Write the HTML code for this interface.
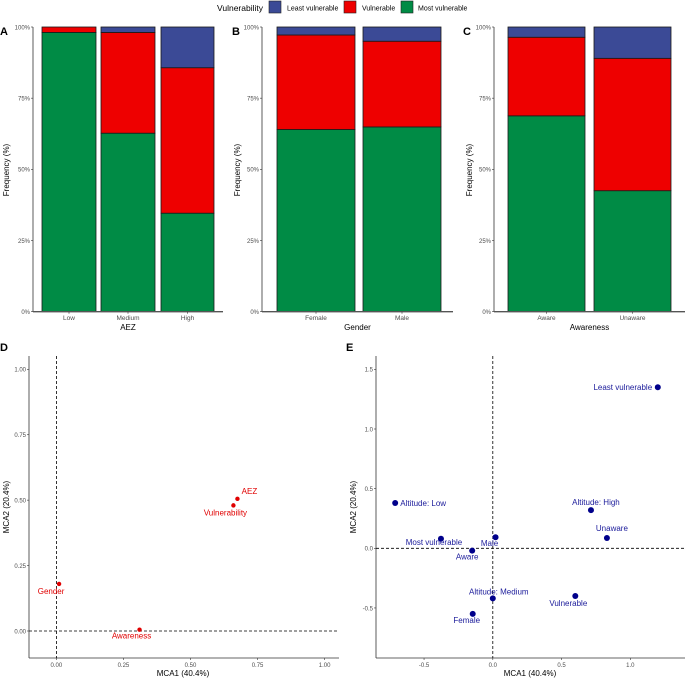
<!DOCTYPE html>
<html><head><meta charset="utf-8">
<style>
html,body{margin:0;padding:0;background:#fff;}
svg{display:block;font-family:"Liberation Sans",Arial,sans-serif;}
</style></head>
<body>
<svg id="fig" width="685" height="679" viewBox="0 0 685 679" xmlns="http://www.w3.org/2000/svg"></svg>
<script>
// ---------- data ----------
const seriesNames = ["Most vulnerable","Vulnerable","Least vulnerable"];
const aezCats = ["Low","Medium","High"];
const aezMost = [98.1, 62.7, 34.6];
const aezVuln = [1.9, 35.4, 51.1];
const aezLeast = [0, 1.9, 14.3];
const genderCats = ["Female","Male"];
const genderMost = [64.0, 64.9];
const genderVuln = [33.2, 30.1];
const genderLeast = [2.8, 5.0];
const awareCats = ["Aware","Unaware"];
const awareMost = [68.8, 42.5];
const awareVuln = [27.6, 46.5];
const awareLeast = [3.6, 11.0];
const pctTicks = [0,25,50,75,100];

const dNames = ["AEZ","Vulnerability","Gender","Awareness"];
const dX = [0.675, 0.66, 0.01, 0.31];
const dY = [0.505, 0.48, 0.18, 0.005];
const dTicks = [0,0.25,0.5,0.75,1];

const eNames = ["Least vulnerable","Altitude: Low","Altitude: High","Unaware","Male","Most vulnerable","Aware","Altitude: Medium","Vulnerable","Female"];
const eX = [1.20,-0.71,0.714,0.83,0.02,-0.377,-0.15,0,0.60,-0.146];
const eY = [1.35,0.38,0.32,0.086,0.093,0.08,-0.02,-0.42,-0.40,-0.55];
const eXTicks = [-0.5,0,0.5,1];
const eYTicks = [-0.5,0,0.5,1,1.5];

// ---------- helpers ----------
const NS="http://www.w3.org/2000/svg";
const svg=document.getElementById('fig');
function el(tag,attrs,parent,txt){const e=document.createElementNS(NS,tag);for(const k in attrs)e.setAttribute(k,attrs[k]);if(txt!==undefined)e.textContent=txt;(parent||svg).appendChild(e);return e;}
const COLORS={"Most vulnerable":"#008B45","Vulnerable":"#EE0000","Least vulnerable":"#3B4A96"};

// legend
const lg=el('g',{});


el('text',{x:217,y:11,'font-size':8.5,fill:'#000'},lg,'Vulnerability');
const legItems=[["Least vulnerable",269,287],["Vulnerable",344,362],["Most vulnerable",401,418]];
legItems.forEach(([n,bx,tx])=>{
  const g=el('g',{},lg);
  
  
  el('rect',{x:bx,y:1,width:12,height:12,fill:COLORS[n],stroke:'#222','stroke-width':0.6},g);
  el('text',{x:tx,y:10.5,'font-size':7,fill:'#000'},g,n);
});

// bar panels
function barPanel(letter,lx,axX,axEnd,bars,cats,most,vuln,least,title,ytx){
  const g=el('g',{});
  
  
  const y0=311.7,y1=27;
  const ys=v=>y0-(y0-y1)*v/100;
  const t=el('text',{x:lx,y:35,'font-size':11,'font-weight':'bold'},g,letter);
  
  cats.forEach((c,i)=>{
    const [bx0,bx1]=bars[i];
    const segs=[["Most vulnerable",0,most[i]],["Vulnerable",most[i],most[i]+vuln[i]],["Least vulnerable",most[i]+vuln[i],most[i]+vuln[i]+least[i]]];
    segs.forEach(([n,a,b])=>{
      if(b-a<=0)return;
      const r=el('rect',{x:bx0,y:ys(b),width:bx1-bx0,height:ys(a)-ys(b),fill:COLORS[n],stroke:'#1a1a1a','stroke-width':0.8},g);
      
      
    });
    const tl=el('text',{x:(bx0+bx1)/2,y:320,'font-size':6.5,fill:'#4d4d4d','text-anchor':'middle'},g,c);
    
  });
  el('line',{x1:axX,y1:y1,x2:axX,y2:y0,stroke:'#333','stroke-width':0.8},g);
  el('line',{x1:axX,y1:y0,x2:axEnd,y2:y0,stroke:'#555','stroke-width':1.4},g);
  pctTicks.forEach(v=>{
    el('line',{x1:axX-2,y1:ys(v),x2:axX,y2:ys(v),stroke:'#333','stroke-width':0.6},g);
    el('text',{x:axX-3,y:ys(v)+2.3,'font-size':6,fill:'#4d4d4d','text-anchor':'end'},g,v+'%');
  });
  cats.forEach((c,i)=>{const m=(bars[i][0]+bars[i][1])/2;el('line',{x1:m,y1:y0,x2:m,y2:y0+2,stroke:'#333','stroke-width':0.6},g);});
  const xt=el('text',{x:(axX+axEnd)/2,y:330,'font-size':8,fill:'#000','text-anchor':'middle'},g,title);
  
  const yt=el('text',{x:0,y:0,'font-size':8,fill:'#000','text-anchor':'middle',transform:`translate(${ytx},170) rotate(-90)`},g,'Frequency (%)');
  
}
barPanel('A',0,33,223,[[42,96],[101,155],[161,214]],aezCats,aezMost,aezVuln,aezLeast,'AEZ',9);
barPanel('B',232,262,453,[[277,355],[363,441]],genderCats,genderMost,genderVuln,genderLeast,'Gender',240);
barPanel('C',463,494,685,[[508,585],[594,671]],awareCats,awareMost,awareVuln,awareLeast,'Awareness',472);

// panel D
(function(){
  const g=el('g',{});
  
  
  const L=29,R=339,T=356,B=658;
  const xs=v=>56.4+268.2*v, ys=v=>631-261.7*v;
  el('text',{x:0,y:351,'font-size':11,'font-weight':'bold'},g,'D');
  el('line',{x1:L,y1:T,x2:L,y2:B,stroke:'#333','stroke-width':0.8},g);
  el('line',{x1:L,y1:B,x2:R,y2:B,stroke:'#333','stroke-width':0.8},g);
  el('line',{x1:xs(0),y1:T,x2:xs(0),y2:B,stroke:'#000','stroke-width':0.8,'stroke-dasharray':'3,2'},g);
  el('line',{x1:L,y1:ys(0),x2:R,y2:ys(0),stroke:'#000','stroke-width':0.8,'stroke-dasharray':'3,2'},g);
  dTicks.forEach(v=>{
    el('line',{x1:L-2,y1:ys(v),x2:L,y2:ys(v),stroke:'#333','stroke-width':0.6},g);
    el('text',{x:L-3,y:ys(v)+2.3,'font-size':6,fill:'#4d4d4d','text-anchor':'end'},g,v.toFixed(2));
    el('line',{x1:xs(v),y1:B,x2:xs(v),y2:B+2,stroke:'#333','stroke-width':0.6},g);
    el('text',{x:xs(v),y:B+9,'font-size':6,fill:'#4d4d4d','text-anchor':'middle'},g,v.toFixed(2));
  });
  const off=[[12,-5],[-8,10],[-8,10],[-8,9]];
  dNames.forEach((n,i)=>{
    const c=el('circle',{cx:xs(dX[i]),cy:ys(dY[i]),r:2.2,fill:'#E00000'},g);
    
    
    const t=el('text',{x:xs(dX[i])+off[i][0],y:ys(dY[i])+off[i][1],'font-size':8,fill:'#E00000','text-anchor':'middle'},g,n);
    
  });
  el('text',{x:183,y:676,'font-size':8,'text-anchor':'middle'},g,'MCA1 (40.4%)');
  el('text',{x:0,y:0,'font-size':8,'text-anchor':'middle',transform:'translate(9,507) rotate(-90)'},g,'MCA2 (20.4%)');
})();

// panel E
(function(){
  const g=el('g',{});
  
  
  const L=376,R=685,T=356,B=658;
  const xs=v=>492.8+137.5*v, ys=v=>548.3-119.3*v;
  el('text',{x:346,y:351,'font-size':11,'font-weight':'bold'},g,'E');
  el('line',{x1:L,y1:T,x2:L,y2:B,stroke:'#333','stroke-width':0.8},g);
  el('line',{x1:L,y1:B,x2:R,y2:B,stroke:'#333','stroke-width':0.8},g);
  el('line',{x1:xs(0),y1:T,x2:xs(0),y2:B,stroke:'#000','stroke-width':0.8,'stroke-dasharray':'3,2'},g);
  el('line',{x1:L,y1:ys(0),x2:R,y2:ys(0),stroke:'#000','stroke-width':0.8,'stroke-dasharray':'3,2'},g);
  eYTicks.forEach(v=>{
    el('line',{x1:L-2,y1:ys(v),x2:L,y2:ys(v),stroke:'#333','stroke-width':0.6},g);
    el('text',{x:L-3,y:ys(v)+2.3,'font-size':6,fill:'#4d4d4d','text-anchor':'end'},g,v.toFixed(1));
  });
  eXTicks.forEach(v=>{
    el('line',{x1:xs(v),y1:B,x2:xs(v),y2:B+2,stroke:'#333','stroke-width':0.6},g);
    el('text',{x:xs(v),y:B+9,'font-size':6,fill:'#4d4d4d','text-anchor':'middle'},g,v.toFixed(1));
  });
  const off=[[-35,3],[28,3],[5,-5],[5,-7],[-6,9],[-7,6],[-5,9],[6,-4],[-7,10],[-6,9]];
  eNames.forEach((n,i)=>{
    const c=el('circle',{cx:xs(eX[i]),cy:ys(eY[i]),r:3,fill:'#00008B'},g);
    
    
    const t=el('text',{x:xs(eX[i])+off[i][0],y:ys(eY[i])+off[i][1],'font-size':8,fill:'#1a1a9a','text-anchor':'middle'},g,n);
    
  });
  el('text',{x:530,y:676,'font-size':8,'text-anchor':'middle'},g,'MCA1 (40.4%)');
  el('text',{x:0,y:0,'font-size':8,'text-anchor':'middle',transform:'translate(356,507) rotate(-90)'},g,'MCA2 (20.4%)');
})();
</script>
</body></html>
